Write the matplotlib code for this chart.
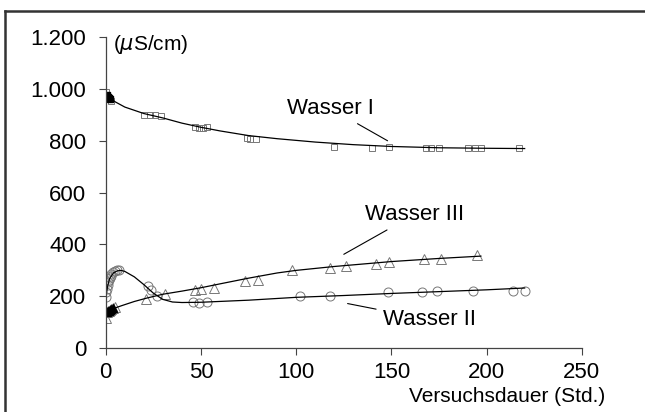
"""
plot.py
 Leitfaehigkeit dreier Waesser ueber die Versuchsdauer
"""
import matplotlib
matplotlib.use('Agg')
import matplotlib.pyplot as plt
from matplotlib.lines import Line2D

plt.rcParams['font.family'] = ['Liberation Sans', 'DejaVu Sans']

# Messpunkte (Std., uS/cm)
w1_t = [0, 0.5, 1, 1.5, 2, 3, 20, 23, 26, 29, 47, 49, 51, 53, 74, 76, 79,
        120, 140, 149, 168, 171, 175, 190, 194, 197, 217]
w1_v = [990, 975, 970, 965, 960, 955, 900, 900, 898, 895, 852, 850, 850, 852,
        812, 805, 808, 775, 774, 776, 773, 772, 774, 772, 771, 772, 772]

w2_t = [0, 0.3, 0.6, 1, 1.3, 1.6, 2, 2.5, 3, 4, 5, 6, 7, 22, 24, 27, 46, 49,
        53, 102, 118, 148, 166, 174, 193, 214, 220]
w2_v = [197, 215, 230, 245, 255, 262, 270, 278, 285, 292, 297, 300, 302, 238,
        225, 203, 177, 176, 177, 203, 203, 216, 216, 219, 222, 222, 222]

w3_t = [0, 0.5, 1, 1.5, 2, 3, 4, 5, 21, 31, 47, 50, 57, 73, 80, 98, 118, 126,
        142, 149, 167, 176, 195]
w3_v = [115, 140, 142, 145, 148, 150, 155, 160, 191, 210, 226, 229, 233, 258,
        261, 300, 311, 315, 326, 332, 342, 345, 358]

# Ausgleichskurven
c1_t = [0, 2, 5, 10, 20, 30, 40, 50, 60, 75, 90, 110, 130, 150, 175, 200, 220]
c1_v = [985, 965, 950, 930, 905, 888, 868, 852, 838, 820, 808, 795, 785, 778,
        773, 771, 770]

c2_t = [0, 1, 2, 4, 6, 8, 10, 15, 20, 25, 30, 35, 40, 50, 75, 100, 125, 150,
        175, 200, 220]
c2_v = [195, 240, 268, 290, 298, 300, 296, 275, 245, 212, 188, 178, 176, 177,
        185, 196, 203, 211, 218, 225, 232]

c3_t = [0, 3, 8, 15, 22, 30, 40, 50, 60, 75, 90, 100, 120, 150, 175, 197]
c3_v = [135, 150, 163, 180, 194, 208, 220, 233, 248, 270, 290, 300, 315, 334,
        346, 355]

xticks = [0, 50, 100, 150, 200, 250]
yticks = [0, 200, 400, 600, 800, 1000, 1200]
ytick_labels = ['0', '200', '400', '600', '800', '1.000', '1.200']

fig = plt.figure(figsize=(6.45, 4.12), dpi=100)
ax = fig.add_axes([0.164, 0.155, 0.738, 0.755])

mk = dict(linestyle=' ', markerfacecolor='none', markeredgecolor='#777777',
          markeredgewidth=0.7)
ax.plot(w1_t, w1_v, marker='s', markersize=5, **mk)
ax.plot(w2_t, w2_v, marker='o', markersize=6.5, **mk)
ax.plot(w3_t, w3_v, marker='^', markersize=7.5, **mk)
# dichte Anfangswerte erscheinen als schwarzer Fleck
ax.plot(w1_t[1:5], w1_v[1:5], 's', ms=5, color='k')
ax.plot(w3_t[1:7], w3_v[1:7], '^', ms=6, color='k')

ax.plot(c1_t, c1_v, '-', color='k', lw=0.9)
ax.plot(c2_t, c2_v, '-', color='k', lw=0.9)
ax.plot(c3_t, c3_v, '-', color='k', lw=0.9)

ax.set_xlim(0, 250)
ax.set_ylim(0, 1200)
ax.set_xticks(xticks)
ax.set_yticks(yticks)
ax.set_yticklabels(ytick_labels)
ax.tick_params(direction='out', length=5, width=0.8, labelsize=16,
               color='#444444')
ax.tick_params(axis='x', pad=5)
ax.tick_params(axis='y', pad=9)
for s in ['top', 'right']:
    ax.spines[s].set_visible(False)
for s in ['left', 'bottom']:
    ax.spines[s].set_color('#444444')
    ax.spines[s].set_linewidth(0.9)

ax.text(4, 1215, r'($\mu$S/cm)', fontsize=15, va='top', ha='left')
ax.text(262.5, -185, 'Versuchsdauer (Std.)', fontsize=15, ha='right',
        va='center', clip_on=False)

lead = dict(arrowprops=dict(arrowstyle='-', color='k', lw=0.8,
                            shrinkA=3, shrinkB=0), fontsize=16)
ax.annotate('Wasser I', xy=(148, 800), xytext=(118, 925), ha='center',
            va='center', **lead)
ax.annotate('Wasser III', xy=(125, 362), xytext=(162, 515), ha='center',
            va='center', **lead)
ax.annotate('Wasser II', xy=(127, 172), xytext=(170, 110), ha='center',
            va='center', **lead)

# Rahmen um die Grafik
fig.add_artist(Line2D([0.008, 1.0], [0.974, 0.974], transform=fig.transFigure,
                      color='#333333', lw=1.8))
fig.add_artist(Line2D([0.008, 0.008], [0.0, 0.974], transform=fig.transFigure,
                      color='#333333', lw=1.8))

plt.savefig('out.png', dpi=100)
